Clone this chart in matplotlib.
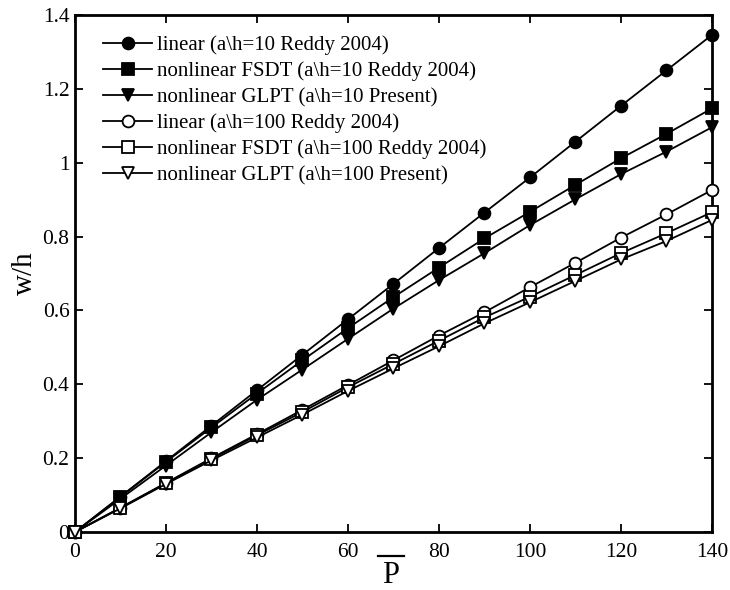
import matplotlib
matplotlib.use("Agg")
import matplotlib.pyplot as plt
from matplotlib.lines import Line2D
from matplotlib.ticker import FuncFormatter

plt.rcParams["font.family"] = "Liberation Serif"

# load values P
p = [0, 10, 20, 30, 40, 50, 60, 70, 80, 90, 100, 110, 120, 130, 140]

# a/h = 10
lin_10 = [0, 0.096, 0.192, 0.288, 0.384, 0.480, 0.576, 0.672, 0.769, 0.865, 0.960, 1.057, 1.154, 1.250, 1.346]
fsdt_10 = [0, 0.095, 0.190, 0.283, 0.375, 0.465, 0.552, 0.636, 0.716, 0.795, 0.867, 0.940, 1.012, 1.078, 1.147]
glpt_10 = [0, 0.090, 0.180, 0.270, 0.358, 0.440, 0.523, 0.605, 0.682, 0.755, 0.831, 0.901, 0.969, 1.030, 1.096]

# a/h = 100
lin_100 = [0, 0.066, 0.133, 0.200, 0.265, 0.331, 0.398, 0.465, 0.532, 0.595, 0.663, 0.729, 0.797, 0.860, 0.926]
fsdt_100 = [0, 0.065, 0.132, 0.198, 0.262, 0.325, 0.392, 0.455, 0.518, 0.581, 0.637, 0.696, 0.755, 0.809, 0.866]
glpt_100 = [0, 0.064, 0.130, 0.194, 0.256, 0.318, 0.382, 0.443, 0.503, 0.565, 0.622, 0.680, 0.738, 0.788, 0.845]

labels = [
    "linear (a\\h=10 Reddy 2004)",
    "nonlinear FSDT (a\\h=10 Reddy 2004)",
    "nonlinear GLPT (a\\h=10 Present)",
    "linear (a\\h=100 Reddy 2004)",
    "nonlinear FSDT (a\\h=100 Reddy 2004)",
    "nonlinear GLPT (a\\h=100 Present)",
]

fig = plt.figure(figsize=(7.3, 5.9), dpi=100)
ax = fig.add_axes([0.1027, 0.0983, 0.8726, 0.8763])

series = [lin_10, fsdt_10, glpt_10, lin_100, fsdt_100, glpt_100]
markers = ["o", "s", "v", "o", "s", "v"]
faces = ["k", "k", "k", "w", "w", "w"]
for ys, m, fc, lab in zip(series, markers, faces, labels):
    ax.plot(p, ys, color="k", lw=1.3, marker=m, ms=8.5, mfc=fc, mec="k",
            mew=1.3, label=lab, clip_on=False, zorder=3)

ax.set_xlim(0, 140)
ax.set_ylim(0, 1.4)
ax.set_xticks(range(0, 141, 20))
ax.set_yticks([0, 0.2, 0.4, 0.6, 0.8, 1.0, 1.2, 1.4])
ax.yaxis.set_major_formatter(FuncFormatter(lambda v, _: "%g" % round(v, 2)))
ax.tick_params(direction="in", top=True, right=True, length=6, width=1.3,
               labelsize=15.5)
ax.tick_params(axis="x", pad=8)
ax.tick_params(axis="y", pad=4)
for s in ax.spines.values():
    s.set_linewidth(2)

ax.set_xlabel("P", fontsize=22, va="baseline")
ax.xaxis.set_label_coords(0.496, -0.0986)
ax.set_ylabel("w/h", fontsize=21, labelpad=3)
# overline on the P label
fig.add_artist(Line2D([378 / 730, 404 / 730], [1 - 556 / 590, 1 - 556 / 590],
                      color="k", lw=1.6))

ax.legend(loc="upper left", frameon=False, fontsize=15, handlelength=2.35,
          handletextpad=0.25, labelspacing=0.3, borderaxespad=0,
          bbox_to_anchor=(0.031, 0.976))

fig.savefig("out.png", dpi=100)
